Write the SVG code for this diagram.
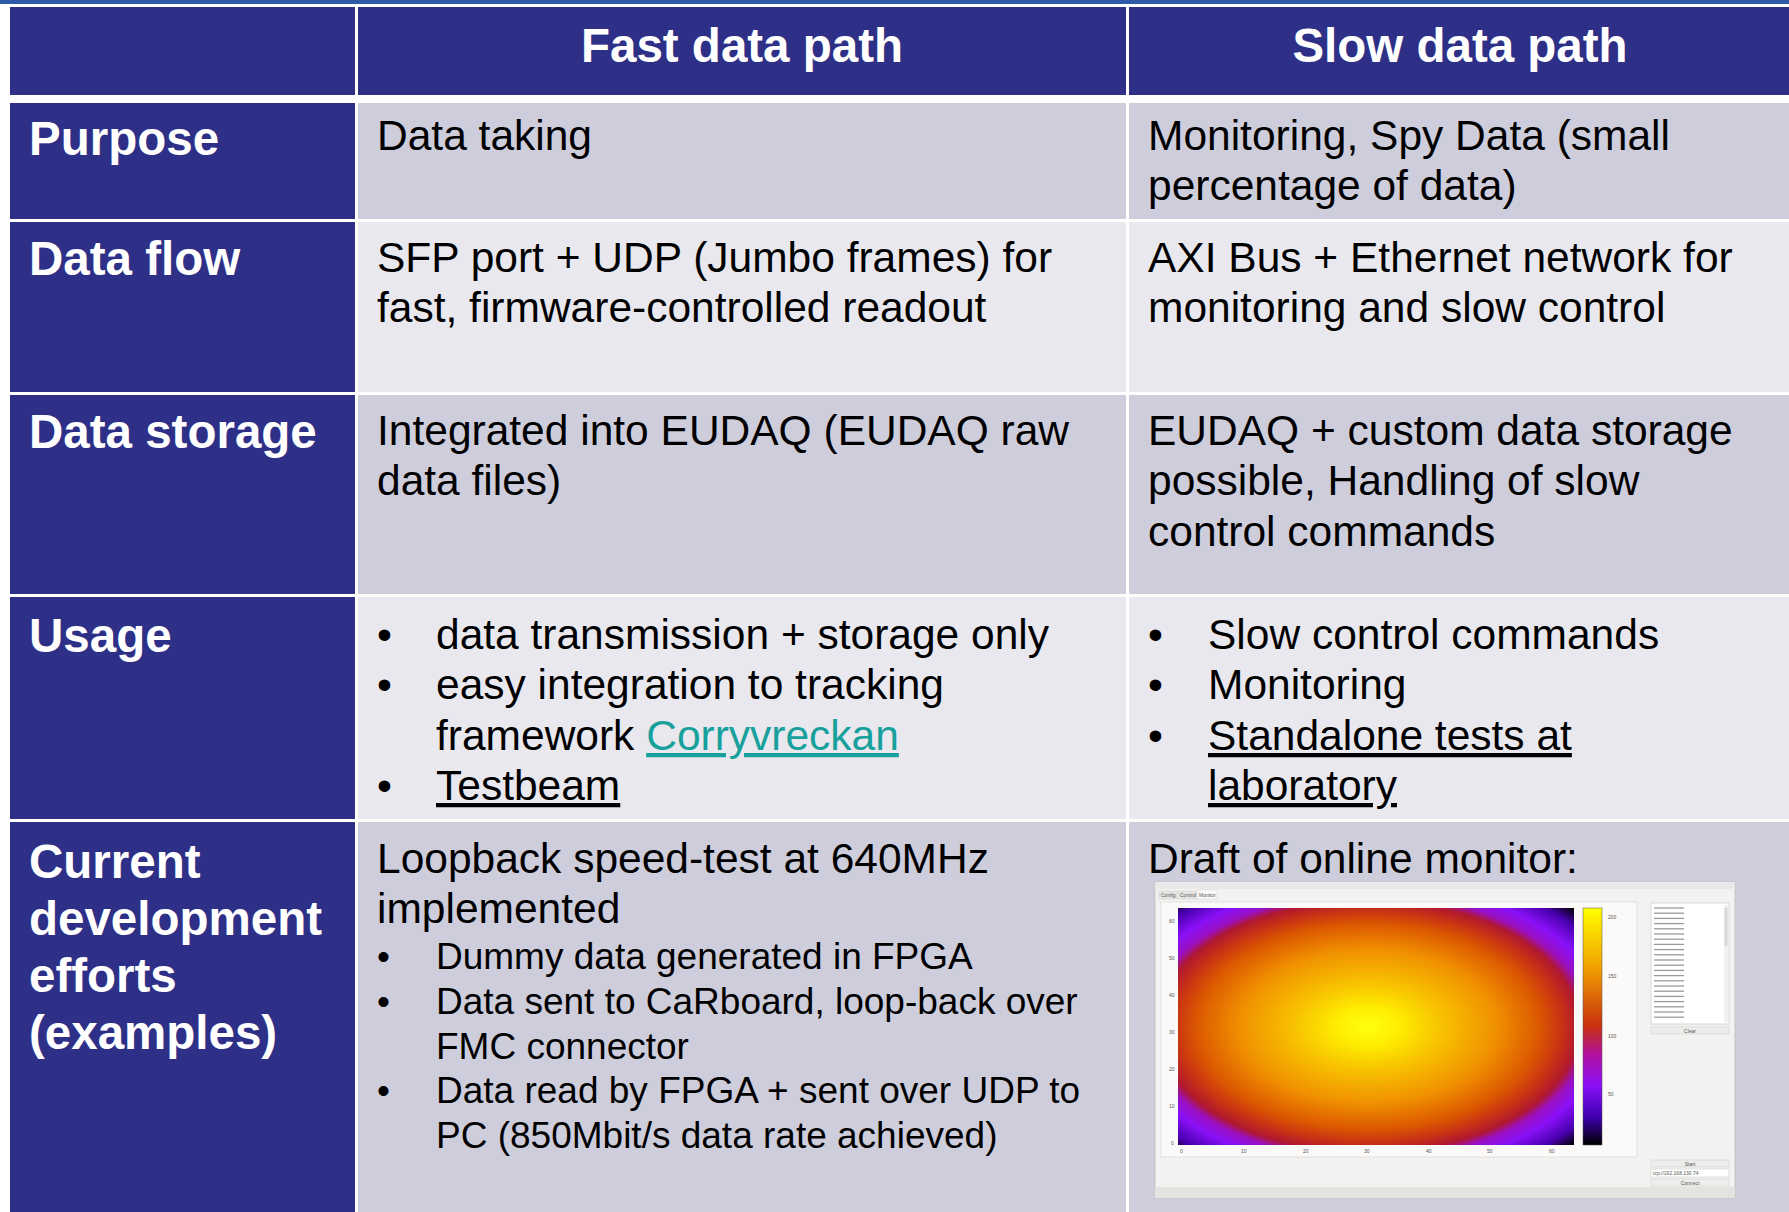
<svg xmlns="http://www.w3.org/2000/svg" width="1789" height="1212" viewBox="0 0 1789 1212">
<defs>
<style>
.hdr{fill:#2E3088;}
.odd{fill:#CDCDDB;}
.even{fill:#E8E8EE;}
.ht{font-family:"Liberation Sans",Arial,sans-serif;font-weight:bold;font-size:47.5px;fill:#FFFFFF;}
.lbl{font-family:"Liberation Sans",Arial,sans-serif;font-weight:bold;font-size:47.5px;fill:#FFFFFF;}
.body{font-family:"Liberation Sans",Arial,sans-serif;font-size:42.5px;fill:#000000;}
.sub{font-family:"Liberation Sans",Arial,sans-serif;font-size:37px;fill:#000000;}
.link{fill:#17A09C;text-decoration:underline;}
.ul{text-decoration:underline;}
.tiny{font-family:"Liberation Sans",Arial,sans-serif;font-size:5px;fill:#555555;}
.ev{stroke:#9A9A9A;stroke-width:1.3;}
</style>
<radialGradient id="heat" cx="0.48" cy="0.5" r="0.72" gradientUnits="objectBoundingBox">
<stop offset="0" stop-color="#FFFF10"/>
<stop offset="0.1" stop-color="#FFF000"/>
<stop offset="0.25" stop-color="#F8C400"/>
<stop offset="0.45" stop-color="#F09000"/>
<stop offset="0.6" stop-color="#DC5800"/>
<stop offset="0.68" stop-color="#C83214"/>
<stop offset="0.74" stop-color="#B01830"/>
<stop offset="0.78" stop-color="#9A10C0"/>
<stop offset="0.84" stop-color="#8A10F8"/>
<stop offset="0.93" stop-color="#4A00B0"/>
<stop offset="1" stop-color="#000000"/>
</radialGradient>
<linearGradient id="cbar" x1="0" y1="0" x2="0" y2="1">
<stop offset="0" stop-color="#FFFF00"/>
<stop offset="0.25" stop-color="#F0A000"/>
<stop offset="0.5" stop-color="#C83010"/>
<stop offset="0.62" stop-color="#B010A0"/>
<stop offset="0.75" stop-color="#8A10F8"/>
<stop offset="0.88" stop-color="#4000B0"/>
<stop offset="1" stop-color="#000000"/>
</linearGradient>
</defs>
<rect x="0" y="0" width="1789" height="1212" fill="#FFFFFF"/>
<rect x="0" y="0" width="1789" height="4" fill="#2F5AA8"/>

<g id="header">
<rect class="hdr" x="10" y="7" width="345" height="88"/>
<rect class="hdr" x="358" y="7" width="768" height="88"/>
<rect class="hdr" x="1129" y="7" width="660" height="88"/>
<text class="ht" x="742" y="62" text-anchor="middle">Fast data path</text>
<text class="ht" x="1460" y="62" text-anchor="middle">Slow data path</text>
</g>

<g id="row-purpose">
<rect class="hdr" x="10" y="103" width="345" height="116"/>
<rect class="odd" x="358" y="103" width="768" height="116"/>
<rect class="odd" x="1129" y="103" width="660" height="116"/>
<text class="lbl" x="29" y="155">Purpose</text>
<text class="body" x="377" y="150">Data taking</text>
<text class="body" x="1148" y="150">Monitoring, Spy Data (small</text>
<text class="body" x="1148" y="200">percentage of data)</text>
</g>

<g id="row-dataflow">
<rect class="hdr" x="10" y="222" width="345" height="170"/>
<rect class="even" x="358" y="222" width="768" height="170"/>
<rect class="even" x="1129" y="222" width="660" height="170"/>
<text class="lbl" x="29" y="275">Data flow</text>
<text class="body" x="377" y="272">SFP port + UDP (Jumbo frames) for</text>
<text class="body" x="377" y="322">fast, firmware-controlled readout</text>
<text class="body" x="1148" y="272">AXI Bus + Ethernet network for</text>
<text class="body" x="1148" y="322">monitoring and slow control</text>
</g>

<g id="row-storage">
<rect class="hdr" x="10" y="395" width="345" height="199"/>
<rect class="odd" x="358" y="395" width="768" height="199"/>
<rect class="odd" x="1129" y="395" width="660" height="199"/>
<text class="lbl" x="29" y="448">Data storage</text>
<text class="body" x="377" y="445">Integrated into EUDAQ (EUDAQ raw</text>
<text class="body" x="377" y="495">data files)</text>
<text class="body" x="1148" y="445">EUDAQ + custom data storage</text>
<text class="body" x="1148" y="495">possible, Handling of slow</text>
<text class="body" x="1148" y="546">control commands</text>
</g>

<g id="row-usage">
<rect class="hdr" x="10" y="597" width="345" height="222"/>
<rect class="even" x="358" y="597" width="768" height="222"/>
<rect class="even" x="1129" y="597" width="660" height="222"/>
<text class="lbl" x="29" y="652">Usage</text>
<text class="body" x="377" y="649">•</text>
<text class="body" x="436" y="649">data transmission + storage only</text>
<text class="body" x="377" y="699">•</text>
<text class="body" x="436" y="699">easy integration to tracking</text>
<text class="body" x="436" y="750">framework <tspan class="link">Corryvreckan</tspan></text>
<text class="body" x="377" y="800">•</text>
<text class="body ul" x="436" y="800">Testbeam</text>
<text class="body" x="1148" y="649">•</text>
<text class="body" x="1208" y="649">Slow control commands</text>
<text class="body" x="1148" y="699">•</text>
<text class="body" x="1208" y="699">Monitoring</text>
<text class="body" x="1148" y="750">•</text>
<text class="body ul" x="1208" y="750">Standalone tests at</text>
<text class="body ul" x="1208" y="800">laboratory</text>
</g>

<g id="row-current">
<rect class="hdr" x="10" y="822" width="345" height="390"/>
<rect class="odd" x="358" y="822" width="768" height="390"/>
<rect class="odd" x="1129" y="822" width="660" height="390"/>
<text class="lbl" x="29" y="878">Current</text>
<text class="lbl" x="29" y="935">development</text>
<text class="lbl" x="29" y="992">efforts</text>
<text class="lbl" x="29" y="1049">(examples)</text>
<text class="body" x="377" y="873">Loopback speed-test at 640MHz</text>
<text class="body" x="377" y="923">implemented</text>
<text class="sub" x="377" y="969">•</text>
<text class="sub" x="436" y="969">Dummy data generated in FPGA</text>
<text class="sub" x="377" y="1014">•</text>
<text class="sub" x="436" y="1014">Data sent to CaRboard, loop-back over</text>
<text class="sub" x="436" y="1059">FMC connector</text>
<text class="sub" x="377" y="1103">•</text>
<text class="sub" x="436" y="1103">Data read by FPGA + sent over UDP to</text>
<text class="sub" x="436" y="1148">PC (850Mbit/s data rate achieved)</text>
<text class="body" x="1148" y="873">Draft of online monitor:</text>
</g>

<g id="monitor-screenshot">
<rect x="1155" y="882" width="580" height="316" fill="#F3F2F0" stroke="#C4C4C4" stroke-width="1"/>
<rect x="1155" y="882" width="580" height="7" fill="#E9E9E9"/>
<rect x="1155" y="1187" width="580" height="11" fill="#E4E3E0"/>
<rect x="1159" y="891" width="18" height="8" fill="#E6E5E3" stroke="#D0D0D0" stroke-width="0.5"/>
<rect x="1178" y="891" width="18" height="8" fill="#E6E5E3" stroke="#D0D0D0" stroke-width="0.5"/>
<rect x="1197" y="890" width="20" height="9" fill="#FAFAF9" stroke="#D0D0D0" stroke-width="0.5"/>
<text class="tiny" x="1161" y="897" font-size="3.5">Config</text>
<text class="tiny" x="1180" y="897" font-size="3.5">Control</text>
<text class="tiny" x="1199" y="897" font-size="3.5">Monitor</text>
<rect x="1161" y="902" width="476" height="255" fill="#FBFAF8" stroke="#DDDDDD" stroke-width="0.8"/>
<rect x="1178" y="908" width="396" height="237" fill="url(#heat)"/>
<rect x="1583" y="908" width="19" height="237" fill="url(#cbar)" stroke="#555" stroke-width="0.5"/>
<g class="tiny">
<text x="1608" y="919">200</text>
<text x="1608" y="978">150</text>
<text x="1608" y="1038">100</text>
<text x="1608" y="1096">50</text>
<text x="1169" y="923">60</text>
<text x="1169" y="960">50</text>
<text x="1169" y="997">40</text>
<text x="1169" y="1034">30</text>
<text x="1169" y="1071">20</text>
<text x="1169" y="1108">10</text>
<text x="1171" y="1145">0</text>
<text x="1180" y="1153">0</text>
<text x="1241" y="1153">10</text>
<text x="1303" y="1153">20</text>
<text x="1364" y="1153">30</text>
<text x="1426" y="1153">40</text>
<text x="1487" y="1153">50</text>
<text x="1549" y="1153">60</text>
</g>
<rect x="1651" y="903" width="78" height="121" fill="#FFFFFF" stroke="#CFCFCF" stroke-width="0.8"/>
<rect x="1724" y="905" width="4" height="117" fill="#F0F0F0"/>
<rect x="1724.5" y="908" width="3" height="38" fill="#D8D8D8"/>
<g class="ev">
<line x1="1654" y1="908" x2="1684" y2="908"/>
<line x1="1654" y1="913.2" x2="1684" y2="913.2"/>
<line x1="1654" y1="918.4" x2="1684" y2="918.4"/>
<line x1="1654" y1="923.6" x2="1684" y2="923.6"/>
<line x1="1654" y1="928.8" x2="1684" y2="928.8"/>
<line x1="1654" y1="934" x2="1684" y2="934"/>
<line x1="1654" y1="939.2" x2="1684" y2="939.2"/>
<line x1="1654" y1="944.4" x2="1684" y2="944.4"/>
<line x1="1654" y1="949.6" x2="1684" y2="949.6"/>
<line x1="1654" y1="954.8" x2="1684" y2="954.8"/>
<line x1="1654" y1="960" x2="1684" y2="960"/>
<line x1="1654" y1="965.2" x2="1684" y2="965.2"/>
<line x1="1654" y1="970.4" x2="1684" y2="970.4"/>
<line x1="1654" y1="975.6" x2="1684" y2="975.6"/>
<line x1="1654" y1="980.8" x2="1684" y2="980.8"/>
<line x1="1654" y1="986" x2="1684" y2="986"/>
<line x1="1654" y1="991.2" x2="1684" y2="991.2"/>
<line x1="1654" y1="996.4" x2="1684" y2="996.4"/>
<line x1="1654" y1="1001.6" x2="1684" y2="1001.6"/>
<line x1="1654" y1="1006.8" x2="1684" y2="1006.8"/>
<line x1="1654" y1="1012" x2="1684" y2="1012"/>
<line x1="1654" y1="1017.2" x2="1684" y2="1017.2"/>
</g>
<rect x="1651" y="1027" width="78" height="7" fill="#EDEDEB" stroke="#CFCFCF" stroke-width="0.6"/>
<text class="tiny" x="1690" y="1032.5" font-size="3.5" text-anchor="middle">Clear</text>
<rect x="1651" y="1160" width="78" height="7" fill="#EDEDEB" stroke="#CFCFCF" stroke-width="0.6"/>
<text class="tiny" x="1690" y="1165.5" font-size="3.5" text-anchor="middle">Start</text>
<rect x="1651" y="1169" width="78" height="8" fill="#FFFFFF" stroke="#CFCFCF" stroke-width="0.6"/>
<text class="tiny" x="1653" y="1175" font-size="3.5">tcp://192.168.130.74</text>
<rect x="1651" y="1179" width="78" height="7" fill="#EDEDEB" stroke="#CFCFCF" stroke-width="0.6"/>
<text class="tiny" x="1690" y="1184.5" font-size="3.5" text-anchor="middle">Connect</text>
</g>
</svg>
